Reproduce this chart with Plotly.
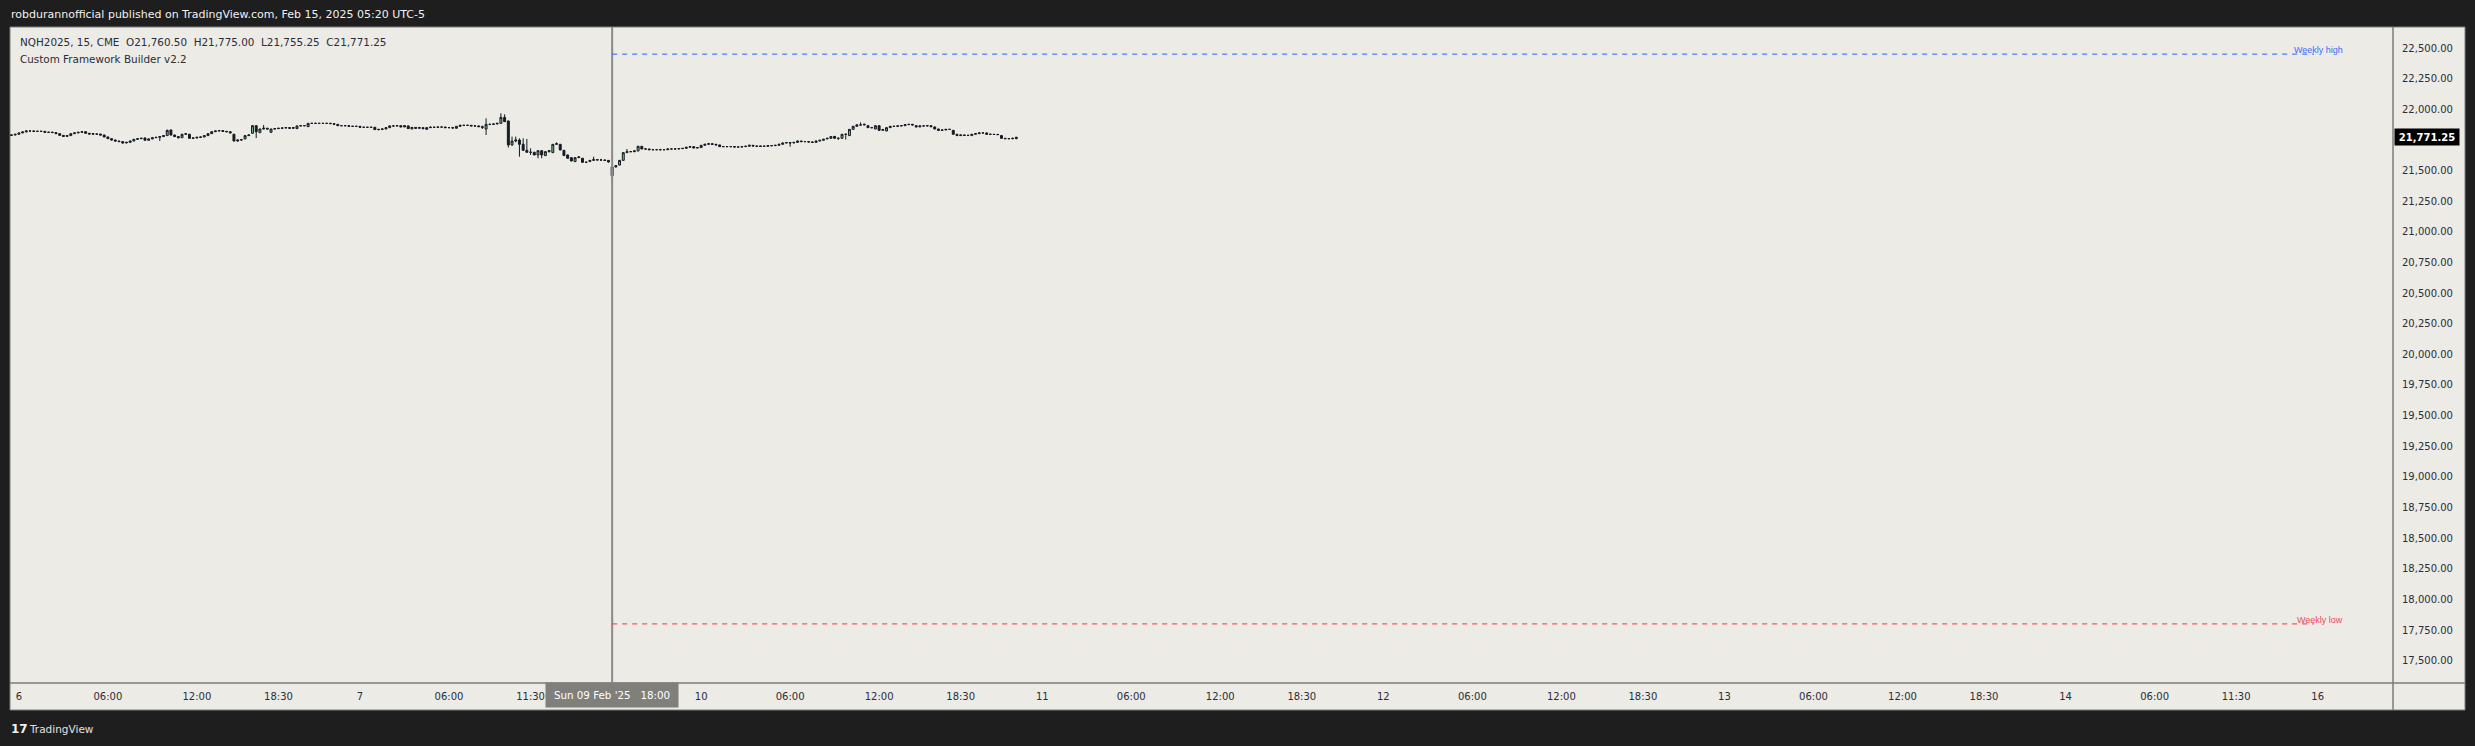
import plotly.graph_objects as go

# ---------------- data (15-min NQH2025 bars, bar 0 = Sun 09 Feb '25 18:00) ----------------
bar_index = list(range(-162, 110))

opens = [
    21787,21790,21796,21807,21815,21823,21823,21820,21820,21820,
    21812,21814,21810,21801,21787,21779,21785,21801,21807,21812,
    21817,21804,21802,21797,21798,21790,21774,21760,21749,21741,
    21736,21725,21730,21741,21755,21760,21766,21747,21758,21768,
    21771,21777,21785,21831,21790,21777,21768,21796,21796,21763,
    21766,21770,21774,21785,21801,21817,21823,21826,21820,21817,
    21796,21741,21749,21758,21785,21804,21866,21809,21839,21845,
    21812,21839,21842,21845,21847,21850,21845,21842,21864,21866,
    21858,21885,21885,21885,21885,21885,21885,21883,21877,21866,
    21866,21866,21861,21861,21861,21853,21853,21853,21853,21834,
    21836,21839,21850,21864,21864,21866,21856,21864,21840,21852,
    21845,21850,21836,21850,21853,21853,21855,21855,21850,21850,
    21845,21861,21869,21869,21869,21864,21864,21858,21839,21877,
    21877,21880,21885,21934,21904,21709,21741,21749,21714,21665,
    21649,21649,21627,21662,21622,21654,21646,21714,21714,21665,
    21627,21605,21573,21605,21600,21567,21573,21583,21589,21586,
    21586,21583,21458,21529,21545,21583,21646,21654,21654,21660,
    21698,21676,21676,21670,21670,21670,21670,21670,21676,21676,
    21676,21679,21681,21690,21695,21684,21687,21706,21714,21719,
    21714,21709,21695,21695,21695,21695,21692,21692,21695,21698,
    21706,21700,21701,21697,21698,21703,21703,21706,21714,21725,
    21728,21725,21730,21741,21736,21736,21733,21730,21741,21747,
    21758,21763,21779,21763,21763,21796,21785,21836,21861,21872,
    21872,21866,21850,21839,21866,21828,21823,21850,21861,21861,
    21864,21866,21875,21877,21866,21856,21864,21864,21866,21856,
    21839,21828,21831,21836,21828,21796,21785,21790,21787,21785,
    21796,21801,21807,21807,21796,21796,21794,21785,21763,21760,21760,21760.5,
]
highs = [
    21794,21798,21809,21817,21828,21829,21826,21824,21823,21822,
    21816,21815,21812,21803,21790,21787,21803,21810,21815,21822,
    21819,21806,21804,21800,21800,21792,21776,21764,21753,21743,
    21738,21733,21743,21757,21764,21768,21768,21760,21770,21773,
    21780,21787,21834,21834,21792,21780,21800,21806,21799,21768,
    21776,21775,21787,21803,21822,21825,21830,21828,21822,21819,
    21800,21752,21754,21787,21795,21870,21870,21842,21872,21849,
    21841,21847,21847,21850,21852,21853,21852,21866,21868,21869,
    21887,21890,21890,21887,21887,21887,21890,21885,21879,21868,
    21868,21867,21863,21863,21862,21855,21855,21855,21855,21838,
    21842,21852,21868,21868,21868,21868,21870,21868,21854,21854,
    21856,21852,21855,21860,21855,21857,21857,21857,21852,21856,
    21863,21871,21871,21871,21871,21869,21866,21866,21926,21880,
    21882,21890,21967,21959,21908,21777,21777,21763,21763,21758,
    21681,21652,21665,21665,21657,21668,21716,21730,21717,21668,
    21630,21608,21608,21616,21603,21575,21586,21613,21591,21595,
    21588,21585,21532,21545,21585,21649,21676,21657,21665,21701,
    21700,21684,21678,21672,21672,21677,21672,21679,21678,21678,
    21680,21683,21692,21697,21697,21692,21708,21717,21722,21721,
    21716,21711,21697,21697,21697,21699,21694,21697,21702,21710,
    21708,21702,21702,21705,21706,21707,21708,21716,21727,21730,
    21733,21732,21743,21743,21738,21740,21737,21743,21749,21757,
    21765,21779,21781,21768,21798,21800,21838,21864,21880,21893,
    21882,21869,21856,21868,21868,21840,21852,21863,21863,21868,
    21871,21876,21880,21880,21868,21866,21866,21868,21869,21858,
    21841,21833,21838,21838,21830,21798,21793,21792,21790,21798,
    21803,21810,21809,21809,21798,21798,21800,21787,21765,21762,21767,21775,
]
lows = [
    21783,21788,21794,21805,21812,21818,21816,21817,21818,21810,
    21808,21808,21799,21785,21774,21776,21783,21799,21805,21808,
    21802,21796,21794,21793,21788,21772,21758,21745,21738,21734,
    21719,21723,21728,21739,21750,21757,21745,21745,21756,21766,
    21741,21775,21783,21785,21775,21762,21766,21790,21760,21757,
    21762,21768,21772,21783,21799,21815,21820,21815,21812,21805,
    21738,21735,21745,21755,21782,21800,21765,21806,21836,21836,
    21809,21836,21840,21840,21846,21842,21840,21840,21862,21864,
    21856,21880,21881,21883,21883,21883,21880,21876,21864,21864,
    21864,21860,21859,21859,21851,21851,21851,21851,21832,21828,
    21830,21837,21848,21860,21862,21853,21854,21840,21838,21843,
    21843,21838,21834,21848,21851,21851,21853,21848,21848,21844,
    21843,21859,21867,21867,21862,21859,21855,21839,21790,21870,
    21872,21877,21883,21897,21687,21703,21730,21613,21662,21646,
    21627,21625,21600,21600,21618,21648,21643,21713,21665,21620,
    21598,21576,21570,21603,21565,21562,21570,21580,21584,21580,
    21581,21565,21415,21525,21542,21580,21645,21651,21650,21657,
    21674,21670,21669,21668,21668,21666,21668,21668,21674,21674,
    21674,21677,21679,21688,21682,21682,21685,21703,21712,21712,
    21707,21693,21693,21693,21693,21690,21690,21690,21693,21696,
    21698,21696,21694,21694,21696,21699,21701,21704,21712,21723,
    21695,21723,21728,21734,21734,21731,21728,21728,21739,21745,
    21756,21761,21761,21750,21761,21752,21783,21834,21859,21866,
    21868,21848,21845,21837,21826,21826,21821,21848,21859,21858,
    21862,21864,21870,21869,21854,21854,21862,21862,21856,21837,
    21826,21826,21829,21834,21794,21783,21782,21784,21785,21783,
    21794,21799,21805,21794,21794,21792,21791,21761,21758,21758,21756,21755.25,
]
closes = [
    21790,21796,21807,21815,21823,21823,21820,21820,21820,21812,
    21812,21810,21801,21787,21779,21785,21801,21807,21812,21817,
    21804,21798,21797,21798,21790,21774,21760,21749,21741,21736,
    21725,21730,21741,21755,21760,21763,21747,21758,21768,21771,
    21777,21785,21828,21790,21777,21768,21796,21801,21763,21766,
    21771,21774,21785,21801,21817,21823,21826,21820,21817,21807,
    21741,21749,21752,21785,21790,21866,21817,21839,21845,21839,
    21839,21842,21845,21847,21850,21845,21850,21864,21866,21866,
    21885,21885,21885,21885,21885,21885,21883,21877,21866,21866,
    21866,21861,21861,21861,21853,21853,21853,21853,21834,21836,
    21839,21850,21864,21864,21866,21856,21866,21842,21852,21845,
    21850,21842,21850,21853,21853,21855,21855,21850,21850,21847,
    21861,21869,21869,21869,21864,21864,21858,21853,21877,21877,
    21880,21885,21934,21899,21709,21741,21749,21714,21665,21649,
    21649,21627,21662,21627,21654,21662,21714,21719,21668,21622,
    21600,21578,21605,21611,21567,21567,21583,21589,21586,21586,
    21583,21570,21529,21540,21583,21646,21654,21654,21660,21698,
    21676,21676,21670,21670,21670,21670,21670,21676,21676,21676,
    21679,21681,21690,21695,21684,21687,21706,21714,21719,21714,
    21709,21695,21695,21695,21695,21692,21692,21695,21698,21706,
    21700,21698,21697,21698,21703,21703,21706,21714,21725,21728,
    21725,21730,21741,21736,21736,21733,21730,21741,21747,21755,
    21763,21777,21763,21763,21796,21796,21836,21861,21872,21872,
    21877,21850,21850,21866,21828,21834,21850,21861,21861,21864,
    21866,21875,21877,21872,21856,21864,21864,21866,21858,21839,
    21828,21831,21836,21836,21796,21785,21790,21787,21787,21796,
    21801,21807,21807,21796,21796,21794,21793,21763,21760,21760,21763,21771.25,
]

tick_bars = [-160, -136, -112, -90, -68, -44, -22, 24, 48, 72, 94, 116, 140, 164, 186,
             208, 232, 256, 278, 300, 324, 348, 370, 392, 416, 438, 460]
tick_labels = ["6", "06:00", "12:00", "18:30", "7", "06:00", "11:30", "10", "06:00", "12:00",
               "18:30", "11", "06:00", "12:00", "18:30", "12", "06:00", "12:00", "18:30", "13",
               "06:00", "12:00", "18:30", "14", "06:00", "11:30", "16"]

price_ticks = [17500, 17750, 18000, 18250, 18500, 18750, 19000, 19250, 19500, 19750, 20000,
               20250, 20500, 20750, 21000, 21250, 21500, 21750, 22000, 22250, 22500]

weekly_high = 22450
weekly_low = 17800
week_start_bar = 0
week_end_bar = 459
crosshair_bar = 0
crosshair_label = "Sun 09 Feb '25\u00a0\u00a0\u00a018:00"
legend_line = ("NQH2025, 15, CME\u00a0\u00a0O21,760.50\u00a0\u00a0H21,775.00\u00a0\u00a0"
               "L21,755.25\u00a0\u00a0C21,771.25")
indicator_name = "Custom Framework Builder v2.2"
header_text = "robdurannofficial published on TradingView.com, Feb 15, 2025 05:20 UTC-5"

assert len(opens) == len(highs) == len(lows) == len(closes) == len(bar_index)

# ---------------- styling ----------------
DARK_BG = "#1e1e1e"
CHART_BG = "#ecebe6"
CANDLE_DARK = "#161a22"
CANDLE_UP = "#6cbf9f"
BORDER = "#7d7d7d"
FONT = "DejaVu Sans"

fig = go.Figure()
fig.add_trace(go.Candlestick(
    x=bar_index, open=opens, high=highs, low=lows, close=closes,
    increasing=dict(line=dict(color=CANDLE_DARK, width=1), fillcolor=CANDLE_UP),
    decreasing=dict(line=dict(color=CANDLE_DARK, width=1), fillcolor=CANDLE_DARK),
    whiskerwidth=0, hoverinfo="skip", showlegend=False,
))

W, H = 2475, 746
L, R, T, B = 10, 82, 27, 63
pw = W - L - R  # 2383
ph = H - T - B  # 656


def px(xp):
    return (xp - L) / pw


def py(yp):
    return (H - B - yp) / ph


shapes = []
# light chart panel (incl. axis bands) with border
shapes.append(dict(type="rect", xref="paper", yref="paper", x0=px(10), x1=px(2465),
                   y0=py(710), y1=py(27), fillcolor=CHART_BG,
                   line=dict(color=BORDER, width=1), layer="below"))
# axis divider lines
shapes.append(dict(type="line", xref="paper", yref="paper", x0=px(10), x1=px(2465),
                   y0=py(683), y1=py(683), line=dict(color=BORDER, width=1.5)))
shapes.append(dict(type="line", xref="paper", yref="paper", x0=px(2393), x1=px(2393),
                   y0=py(710), y1=py(27), line=dict(color=BORDER, width=1.5)))
# crosshair
shapes.append(dict(type="line", xref="x", yref="paper", x0=crosshair_bar, x1=crosshair_bar,
                   y0=0, y1=1, line=dict(color="#8a8a8a", width=2)))
# weekly levels
shapes.append(dict(type="line", xref="x", yref="y", x0=week_start_bar, x1=week_end_bar,
                   y0=weekly_high, y1=weekly_high, line=dict(color="#2962ff", width=1, dash="5px,5px")))
shapes.append(dict(type="line", xref="x", yref="y", x0=week_start_bar, x1=week_end_bar,
                   y0=weekly_low, y1=weekly_low, line=dict(color="#f23645", width=1, dash="5px,5px")))

annotations = [
    dict(text=header_text, xref="paper", yref="paper", x=px(9), y=py(15), xanchor="left",
         yanchor="middle", showarrow=False, font=dict(family=FONT, size=11, color="#f0f0f0")),
    dict(text=legend_line, xref="paper", yref="paper", x=px(18), y=py(42), xanchor="left",
         yanchor="middle", showarrow=False, font=dict(family=FONT, size=10.4, color="#2a2e39")),
    dict(text=indicator_name, xref="paper", yref="paper", x=px(18), y=py(59), xanchor="left",
         yanchor="middle", showarrow=False, font=dict(family=FONT, size=10.4, color="#2a2e39")),
    dict(text="Weekly high", xref="x", yref="y", x=453, y=weekly_high, yshift=4, xanchor="left",
         yanchor="middle", showarrow=False, font=dict(family="Liberation Sans", size=9, color="#3d6cf5")),
    dict(text="Weekly low", xref="x", yref="y", x=454, y=weekly_low, yshift=4, xanchor="left",
         yanchor="middle", showarrow=False, font=dict(family="Liberation Sans", size=9, color="#f2495a")),
    dict(text="<b>{:,.2f}</b>".format(closes[-1]), xref="paper", yref="y", x=px(2427),
         y=closes[-1], xanchor="center", yanchor="middle", showarrow=False, bgcolor="#000000",
         width=62, height=14, borderpad=1, font=dict(family=FONT, size=10, color="#ffffff")),
    dict(text=crosshair_label, xref="x", yref="paper", x=crosshair_bar, y=py(695),
         xanchor="center", yanchor="middle", showarrow=False, bgcolor="#7f7f7c",
         width=128, height=20, borderpad=2, font=dict(family=FONT, size=10.3, color="#ffffff")),
    dict(text="<b>17</b>", xref="paper", yref="paper", x=px(9), y=py(729), xanchor="left",
         yanchor="middle", showarrow=False, font=dict(family=FONT, size=12, color="#f0f0f0")),
    dict(text="TradingView", xref="paper", yref="paper", x=px(27), y=py(729), xanchor="left",
         yanchor="middle", showarrow=False, font=dict(family=FONT, size=10.5, color="#e0e0e0")),
]

fig.update_layout(
    width=W, height=H,
    margin=dict(l=L, r=R, t=T, b=B, pad=0),
    paper_bgcolor=DARK_BG, plot_bgcolor=CHART_BG,
    showlegend=False, hovermode=False, boxgap=0.25,
    shapes=shapes, annotations=annotations,
    xaxis=dict(range=[-162.4, 480.3], rangeslider=dict(visible=False), showgrid=False,
               zeroline=False, showline=False, ticks="", tickmode="array",
               tickvals=tick_bars, ticktext=tick_labels, ticklabelstandoff=6,
               tickfont=dict(family=FONT, size=10, color="#2a2e39"), fixedrange=True),
    yaxis=dict(range=[17317.8, 22671.4], side="right", showgrid=False, zeroline=False,
               showline=False, ticks="", tickmode="array", tickvals=price_ticks,
               ticktext=["{:,.2f}".format(v) for v in price_ticks], ticklabelstandoff=8,
               tickfont=dict(family=FONT, size=10, color="#2a2e39"), fixedrange=True),
)

fig.write_html(
    "out.html",
    config={"displayModeBar": False},
    post_script="document.body.style.margin='0px';document.body.style.overflow='hidden';",
)
